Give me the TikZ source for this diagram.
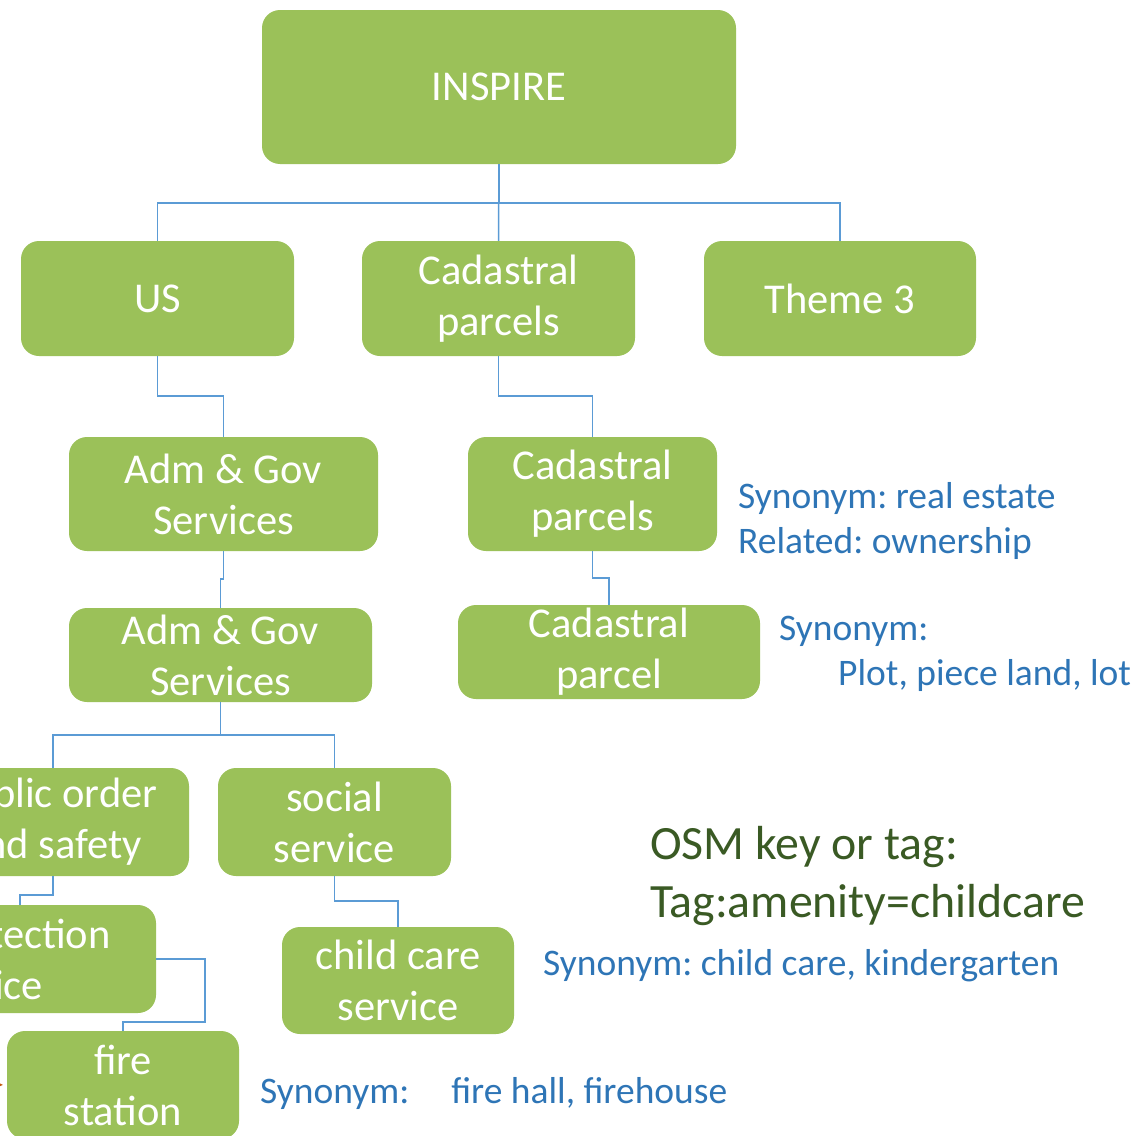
\documentclass[tikz,border=0pt]{standalone}
\usepackage{fontspec}
\setmainfont{Carlito}
\usepackage{xcolor}
\usepackage{tikz}
\frenchspacing

\definecolor{boxgreen}{RGB}{155,193,89}
\definecolor{linkblue}{RGB}{91,155,213}
\definecolor{synblue}{RGB}{46,117,182}
\definecolor{osmgreen}{RGB}{58,90,36}
\definecolor{arroworange}{RGB}{197,90,17}

\tikzset{
  box/.style={rectangle, rounded corners=18, fill=boxgreen, text=white, inner sep=0,
    align=center, font=\fontsize{42.5}{51}\selectfont},
  link/.style={draw=linkblue, line width=1.5},
  syn/.style={anchor=west, inner sep=0, align=left, text=synblue, font=\fontsize{37.5}{45}\selectfont}
}

\begin{document}
\begin{tikzpicture}[x=1pt, y=-1pt]
\useasboundingbox (0,0) rectangle (1137,1135);
\clip (0,0) rectangle (1137,1135);

\node[box, minimum width=474, minimum height=154] (inspire) at (499,87) {INSPIRE};
\node[box, minimum width=273, minimum height=115] (us) at (157.5,298.5) {US};
\node[box, minimum width=273, minimum height=115] (cadtheme) at (498.5,298.5) {Cadastral\\parcels};
\node[box, minimum width=272, minimum height=115] (theme) at (840,298.5) {Theme 3};

\node[box, minimum width=309, minimum height=114] (admone) at (223.5,494) {Adm \& Gov\\Services};
\node[box, minimum width=249, minimum height=114] (cadparcels) at (592.5,494) {Cadastral\\parcels};
\node[box, minimum width=303, minimum height=94] (admtwo) at (220.5,655) {Adm \& Gov\\Services};
\node[box, minimum width=302, minimum height=94] (cadparcel) at (609,652) {Cadastral\\parcel};

\node[box, minimum width=272, minimum height=108] (puborder) at (53,822) {public order\\and safety};
\node[box, minimum width=233, minimum height=108] (social) at (334.5,822) {social\\service};
\node[box, minimum width=347, minimum height=108] (protection) at (-17.5,959) {civil protection\\service};
\node[box, minimum width=232, minimum height=107] (childcare) at (398,980.5) {child care\\service};
\node[box, minimum width=232, minimum height=108] (firestation) at (123,1085) {fire\\station};

\draw[link] (inspire.south) -- (cadtheme.north);
\draw[link] (inspire.south) -- ++(0,39) -| (us.north);
\draw[link] (inspire.south) -- ++(0,39) -| (theme.north);
\draw[link] (us.south) -- ++(0,40) -| (admone.north);
\draw[link] (cadtheme.south) -- ++(0,40) -| (cadparcels.north);
\draw[link] (admone.south) -- ++(0,28) -| (admtwo.north);
\draw[link] (cadparcels.south) -- ++(0,27) -| (cadparcel.north);
\draw[link] (admtwo.south) -- ++(0,33) -| (puborder.north);
\draw[link] (admtwo.south) -- ++(0,33) -| (social.north);
\draw[link] (puborder.south) -- ++(0,19) -| ([xshift=37.5]protection.north);
\draw[link] (social.south) -- ++(0,25) -| (childcare.north);
\draw[link] (protection.east) -| ++(49,63) -| (firestation.north);

\coordinate (firesrc) at (-30,1084);
\draw[draw=arroworange, line width=1.5, -stealth, shorten >=4] (firesrc) -- (firestation.west);

\node[syn] (cadsyn) at (738,521) {Synonym: real estate\\Related: ownership};
\node[syn] (parcelsyn) at (779,654) {Synonym:\\\hspace*{59pt}Plot, piece land, lot};
\node[anchor=west, inner sep=0, align=left, text=osmgreen, font=\fontsize{47.8}{58}\selectfont]
  (osmtag) at (650,876) {OSM key or tag:\\Tag:amenity=childcare};
\node[syn] (childsyn) at (543,966) {Synonym: child care, kindergarten};
\node[syn] (firesyn) at (260,1093) {Synonym:\hspace{42pt}fire hall, firehouse};
\end{tikzpicture}
\end{document}
